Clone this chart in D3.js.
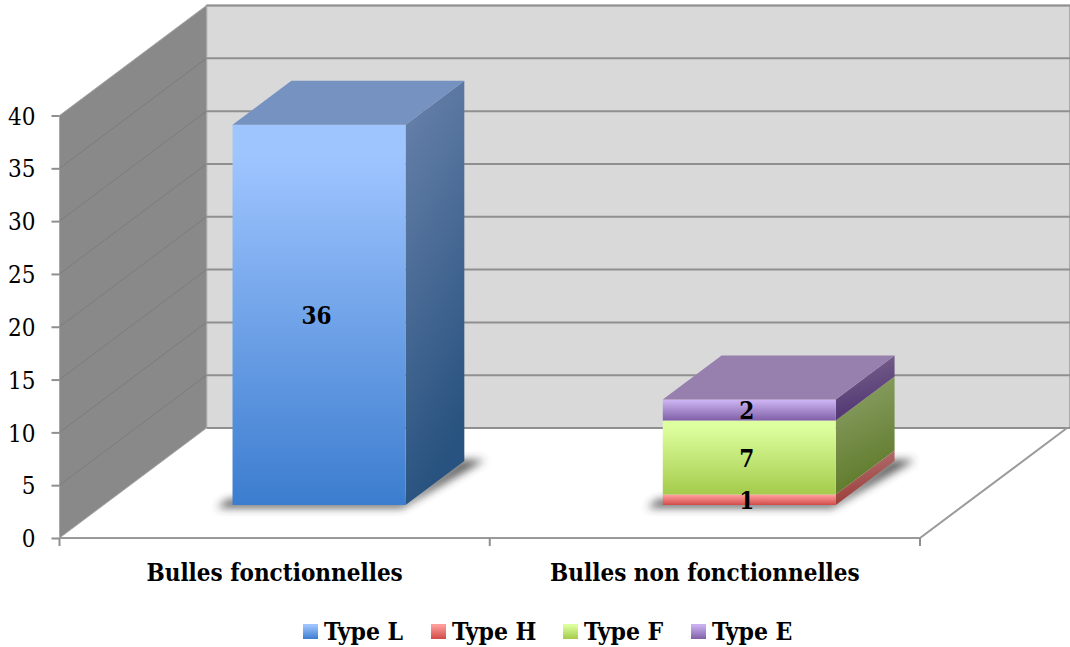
<!DOCTYPE html>
<html>
<head>
<meta charset="utf-8">
<script src="https://cdnjs.cloudflare.com/ajax/libs/d3/7.8.5/d3.min.js"></script>
<style>
html,body{margin:0;padding:0;background:#fff;}
text{font-family:"DejaVu Serif Condensed","DejaVu Serif",serif;fill:#000;}
.axis path{display:none;}
</style>
</head>
<body>
<svg id="chart" width="1070" height="647"></svg>
<script>
// values
var categories = ['Bulles fonctionnelles','Bulles non fonctionnelles'];
var seriesNames = ['Type L','Type H','Type F','Type E'];
var typeL = [36,0];
var typeH = [0,1];
var typeF = [0,7];
var typeE = [0,2];
var yTicks = [0,5,10,15,20,25,30,35,40];

// front colour top, front colour bottom, side top, side bottom, top face
var frontTop = ['#9fc5ff','#ff9e9b','#deff9f','#cab1f0'];
var frontBottom = ['#3c7dcf','#d04b49','#a4cb4b','#8060a8'];
var sideTop = ['#6a83ac','#b37a79','#8fa36c','#7c6890'];
var sideBottom = ['#28527f','#9c3a37','#5f7a2a','#4f3370'];
var topFace = ['#7592c0','#b57a79','#a0b874','#9780ae'];

var FONT = '"DejaVu Serif Condensed","DejaVu Serif",serif';

var svg = d3.select('#chart');
var defs = svg.append('defs');

var x = d3.scaleBand().domain(categories).range([59.5,920]);
var y = d3.scaleLinear().domain([0,40]).range([538,115.5]);
// depth of the 3d box: 0 = front of floor, 1 = back wall
var depthX = d3.scaleLinear().domain([0,1]).range([0,147]);
var depthY = d3.scaleLinear().domain([0,1]).range([0,-110]);
var barW = 173;
var barNear = 0.3, barFar = 0.7;

function pt(px,py,d){ return [px+depthX(d),py+depthY(d)]; }
var poly = d3.line();

// gradients
seriesNames.forEach(function(s,i){
	var g = defs.append('linearGradient').attr('id','front'+i)
		.attr('x1',0).attr('y1',0).attr('x2',0).attr('y2',1);
	g.append('stop').attr('offset',0.08).attr('stop-color',frontTop[i]);
	g.append('stop').attr('offset',1).attr('stop-color',frontBottom[i]);
	var g2 = defs.append('linearGradient').attr('id','side'+i)
		.attr('x1',0).attr('y1',0).attr('x2',0.25).attr('y2',1);
	g2.append('stop').attr('offset',0).attr('stop-color',sideTop[i]);
	g2.append('stop').attr('offset',1).attr('stop-color',sideBottom[i]);
});
defs.append('filter').attr('id','blur').attr('x','-20%').attr('y','-50%').attr('width','140%').attr('height','200%')
	.append('feGaussianBlur').attr('stdDeviation',4);

var x0 = x.range()[0], x1 = x.range()[1], y0 = y(0), yTop = y(40);

// walls
svg.append('path').attr('fill','#d9d9d9').attr('stroke','#9a9a9a').attr('stroke-width',1.5)
	.attr('d',poly([pt(x0,y0,1),pt(x0,yTop,1),[1070,yTop+depthY(1)],[1070,y0+depthY(1)]]));
svg.append('path').attr('fill','#fff')
	.attr('d',poly([pt(x0,y0,0),pt(x1,y0,0),pt(x1,y0,1),pt(x0,y0,1)]));
svg.append('path').attr('fill','#898989').attr('stroke','#a8a8a8').attr('stroke-width',1)
	.attr('d',poly([pt(x0,y0,0),pt(x0,yTop,0),pt(x0,yTop,1),pt(x0,y0,1)])+'Z');

// gridlines, back wall + side wall
yTicks.forEach(function(t){
	svg.append('path').attr('fill','none').attr('stroke','#8f8f8f').attr('stroke-width',2)
		.attr('d',poly([pt(x0,y(t),1),[1070,y(t)+depthY(1)]]));
	if(t>0 && t<40){
		svg.append('path').attr('fill','none').attr('stroke','#7c7c7c').attr('stroke-width',1)
			.attr('d',poly([pt(x0,y(t),0),pt(x0,y(t),1)]));
	}
});

// floor edges
svg.append('path').attr('fill','none').attr('stroke','#9a9a9a').attr('stroke-width',2)
	.attr('d',poly([pt(x0,y0,0),pt(x1,y0,0),pt(x1,y0,1)]));

// axes
var yAxis = d3.axisLeft(y).tickValues(yTicks).tickSize(8).tickPadding(16);
var gy = svg.append('g').attr('class','axis').attr('transform','translate('+x0+',0)').call(yAxis);
gy.selectAll('line').attr('stroke','#8f8f8f').attr('stroke-width',2);
gy.selectAll('text').attr('font-size',24).attr('font-family',FONT).attr('dy','0.36em');

var xAxis = d3.axisBottom(x).tickSize(0).tickPadding(26);
var gx = svg.append('g').attr('class','axis').attr('transform','translate(0,'+y0+')').call(xAxis);
gx.selectAll('text').attr('font-size',24).attr('font-weight','bold').attr('font-family',FONT);
[x0,x0+x.bandwidth(),x1].forEach(function(e){
	svg.append('line').attr('x1',e).attr('x2',e).attr('y1',y0).attr('y2',y0+8)
		.attr('stroke','#8f8f8f').attr('stroke-width',2);
});

// stacks
var rows = categories.map(function(c,i){
	return {cat:c,'Type L':typeL[i],'Type H':typeH[i],'Type F':typeF[i],'Type E':typeE[i]};
});
var stacked = d3.stack().keys(seriesNames)(rows);

categories.forEach(function(c,ci){
	var left = x(c)+(x.bandwidth()-barW)/2+0.3;
	var right = left+barW;
	// floor shadow under the box
	svg.append('path').attr('fill','#333').attr('opacity',0.8).attr('filter','url(#blur)')
		.attr('d',poly([
			pt(left-12,y0,barNear-0.025),pt(right,y0,barNear-0.025),
			pt(right+19,y0,barFar+0.01),pt(right-4,y0,barFar+0.01),
			pt(right-6,y0,barNear+0.05),pt(left-12,y0,barNear+0.05)])+'Z');

	var last = -1;
	stacked.forEach(function(layer,si){
		var d = layer[ci];
		if(d[1]-d[0] <= 0) return;
		last = si;
		var by = y(d[0]), ty = y(d[1]);
		// side
		svg.append('path').attr('fill','url(#side'+si+')')
			.attr('d',poly([pt(right,by,barNear),pt(right,by,barFar),pt(right,ty,barFar),pt(right,ty,barNear)])+'Z');
		// front
		svg.append('path').attr('fill','url(#front'+si+')')
			.attr('d',poly([pt(left,by,barNear),pt(right,by,barNear),pt(right,ty,barNear),pt(left,ty,barNear)])+'Z');
	});
	// top face of the last series
	var topV = stacked[last][ci][1];
	svg.append('path').attr('fill',topFace[last])
		.attr('d',poly([pt(left,y(topV),barNear),pt(right,y(topV),barNear),pt(right,y(topV),barFar),pt(left,y(topV),barFar)])+'Z');
	// value labels
	stacked.forEach(function(layer){
		var d = layer[ci];
		if(d[1]-d[0] <= 0) return;
		var p = pt(left+barW/2-2.5,y((d[0]+d[1])/2),barNear);
		svg.append('text').attr('x',p[0]).attr('y',p[1]+1).attr('dy','0.35em')
			.attr('text-anchor','middle').attr('font-size',24).attr('font-weight','bold')
			.text(d[1]-d[0]);
	});
});

// legend
var legendSwatch = [303,431,563,691];
seriesNames.forEach(function(s,i){
	svg.append('rect').attr('x',legendSwatch[i]).attr('y',624).attr('width',15).attr('height',15)
		.attr('fill','url(#front'+i+')');
	svg.append('text').attr('x',legendSwatch[i]+21).attr('y',640)
		.attr('font-size',24.5).attr('font-weight','bold').text(s);
});
</script>
</body>
</html>
